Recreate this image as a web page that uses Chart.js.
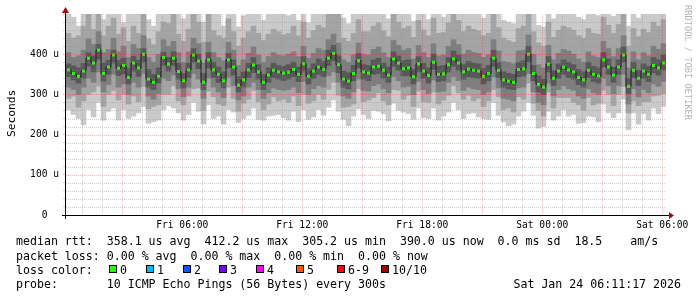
<!DOCTYPE html>
<html>
<head>
<meta charset="utf-8">
<script src="https://cdn.jsdelivr.net/npm/chart.js@4.4.1/dist/chart.umd.min.js"></script>
<style>
  body { margin: 0; background: #fff; }
  #wrap { position: relative; width: 697px; height: 297px; overflow: hidden; }
  .txt { position: absolute; font-family: 'DejaVu Sans Mono', monospace; font-size: 11.6px; line-height: 14px; white-space: pre; color: #000; }
  .box { position: absolute; width: 6px; height: 6px; border: 1px solid #000; }
  #ylab { position: absolute; left: 5px; top: 90px; width: 13px; height: 47px; font-family: 'DejaVu Sans Mono', monospace; font-size: 11.2px; line-height: 13px; white-space: pre; color: #000; writing-mode: vertical-rl; transform: rotate(180deg); }
  #credit { position: absolute; left: 683px; top: 5px; width: 9px; font-family: 'DejaVu Sans Mono', monospace; font-size: 8.7px; line-height: 9px; color: #b4b4b4; white-space: pre; writing-mode: vertical-rl; }
</style>
</head>
<body>
<div id="wrap">
  <canvas id="smoke" width="697" height="297"></canvas>
  <div id="ylab">Seconds</div>
  <div id="credit">RRDTOOL / TOBI OETIKER</div>
  <div class="txt" style="left:16px;top:234px">median rtt:  358.1 us avg  412.2 us max  305.2 us min  390.0 us now  0.0 ms sd  18.5    am/s</div>
  <div class="txt" style="left:16px;top:249px">packet loss: 0.00 % avg  0.00 % max  0.00 % min  0.00 % now</div>
  <div class="txt" style="left:16px;top:263px">loss color:</div>
  <div id="losslegend"></div>
  <div class="txt" style="left:16px;top:277px">probe:       10 ICMP Echo Pings (56 Bytes) every 300s</div>
  <div class="txt" style="right:16px;top:277px">Sat Jan 24 06:11:17 2026</div>
</div>
<script>
// time axis: hours since Fri 00:00, one column per 15 minutes
const firstHour = 0.313;
const stepHour = 0.25;

// median rtt (microseconds)
const median = [
  361,352,345,358,390,378,410,352,368,398,365,372,342,378,366,400,338,330,345,392,
  375,390,357,334,361,398,383,330,386,361,350,334,386,368,323,336,361,373,356,330,
  348,360,356,353,355,362,350,376,345,358,368,362,390,402,374,338,333,352,384,356,
  353,368,370,360,348,388,378,364,366,344,376,358,347,380,350,351,374,388,378,356,
  363,360,358,345,352,390,360,336,333,330,362,364,400,352,325,318,375,340,358,368,
  361,356,342,336,360,350,346,386,368,348,368,398,320,360,340,358,350,372,366,378
];
// smoke bands: ping 4..7
const deepHi = [
  376,371,366,377,404,396,424,378,385,410,384,390,364,395,385,414,362,350,366,405,
  392,406,378,352,378,414,400,352,404,380,368,356,402,386,344,356,378,392,374,350,
  366,378,372,370,374,380,368,394,364,376,388,382,410,422,396,358,354,372,402,374,
  372,386,390,378,368,406,396,384,386,362,394,378,366,400,370,372,392,408,398,374,
  382,378,376,364,372,410,380,356,352,350,380,384,420,372,346,338,394,360,376,386,
  380,374,362,356,380,370,366,404,388,368,386,418,340,380,360,376,370,392,386,398
];
const deepLo = [
  344,336,328,340,370,356,388,333,350,378,347,351,326,358,345,380,318,312,328,372,
  358,372,338,316,342,380,364,312,366,342,330,316,366,348,306,318,342,354,338,312,
  330,342,338,334,338,344,332,358,326,340,350,344,372,384,354,318,314,334,366,338,
  334,350,352,340,330,370,360,346,346,326,356,340,328,362,332,334,356,370,360,338,
  344,342,340,326,334,370,342,318,314,312,344,346,380,334,306,300,356,322,340,350,
  342,338,324,318,342,332,328,368,350,330,350,380,302,342,322,340,332,354,348,360
];
// ping 3..8
const darkHi = [
  404,392,396,410,438,424,456,404,412,440,406,420,392,424,414,446,392,380,400,436,
  420,432,404,380,406,440,426,378,430,404,392,384,430,410,372,386,402,418,398,380,
  394,404,398,396,400,406,394,420,390,402,414,410,436,450,428,386,380,398,428,400,
  398,412,418,404,392,434,422,410,414,388,422,404,392,426,396,398,420,436,424,400,
  410,404,402,392,398,436,408,382,380,376,408,410,448,400,374,366,422,386,402,412,
  408,400,388,380,406,396,392,432,414,394,414,446,366,406,386,404,396,420,412,426
];
const darkLo = [
  318,312,300,318,340,330,356,306,324,350,318,326,300,330,318,352,296,288,302,340,
  334,348,314,294,318,352,338,290,340,318,306,292,342,322,286,296,318,330,312,290,
  304,316,312,310,312,318,304,332,300,314,322,318,346,356,330,296,290,306,338,310,
  308,322,326,314,304,344,334,318,320,300,332,312,302,336,306,308,330,344,334,310,
  318,314,312,300,306,344,316,290,288,284,316,318,352,306,280,274,328,296,312,322,
  314,310,296,290,314,304,300,340,322,302,322,350,276,314,294,312,304,326,320,332
];
// ping 2..9
const midHi = [
  452,440,446,470,500,462,500,446,470,490,450,466,432,470,452,500,438,424,456,480,
  476,500,450,432,462,500,480,430,500,458,446,440,488,456,420,440,456,470,452,434,
  450,462,456,448,452,470,446,480,440,458,472,466,500,500,500,440,432,452,486,456,
  456,470,478,458,444,500,480,464,470,442,484,460,446,490,452,454,478,500,484,456,
  470,462,458,446,452,500,466,440,434,430,464,470,500,456,428,420,480,442,460,470,
  466,460,446,440,464,452,450,492,472,452,474,500,420,464,444,462,454,480,470,486
];
const midLo = [
  290,296,268,284,300,306,322,270,300,310,286,300,276,296,282,320,264,270,274,300,
  300,322,284,274,296,314,316,260,308,294,276,272,318,290,258,278,288,310,282,262,
  276,294,284,288,280,296,272,300,278,284,300,288,312,330,298,268,270,276,314,282,
  286,292,304,284,274,312,310,288,298,270,308,282,280,306,276,286,298,322,304,288,
  298,284,290,270,284,312,294,262,266,256,294,288,328,278,260,246,306,266,292,292,
  292,280,274,260,292,274,278,310,300,272,300,320,254,284,272,282,282,296,298,302
];
// ping 1..10
const lightHi = [
  500,492,470,500,500,500,500,486,500,500,500,478,500,500,500,500,486,470,500,500,
  500,500,500,488,500,500,500,480,500,500,500,470,500,500,468,496,500,500,500,484,
  500,500,500,500,496,500,484,500,478,500,500,500,500,500,500,490,476,500,500,500,
  500,500,500,500,488,500,500,500,500,482,500,500,486,500,500,492,500,500,500,500,
  500,500,500,490,500,500,500,484,480,476,500,500,500,500,472,468,500,488,500,500,
  500,500,492,486,500,500,496,500,500,494,500,500,470,500,490,500,500,500,500,500
];
const lightLo = [
  262,250,240,224,262,244,280,236,258,266,236,262,240,246,254,270,228,232,236,262,
  272,266,254,236,250,280,258,226,274,240,246,226,262,256,230,240,248,266,238,236,
  246,248,250,242,236,258,232,262,238,244,262,248,268,286,258,238,222,246,264,250,
  240,260,258,252,234,278,260,256,252,238,266,242,240,266,236,246,256,280,262,240,
  252,254,244,240,238,280,248,232,222,226,246,258,280,248,216,220,258,236,246,262,
  246,250,228,230,246,244,232,276,254,242,254,288,212,254,226,252,236,266,252,270
];

// axis ticks
const gridHours = [1,2,3,4,5,6,7,8,9,10,11,12,13,14,15,16,17,18,19,20,21,22,23,24,25,26,27,28,29,30];
const hourLabels = { 6: 'Fri 06:00', 12: 'Fri 12:00', 18: 'Fri 18:00', 24: 'Sat 00:00', 30: 'Sat 06:00' };
const lossNames = ['0', '1', '2', '3', '4', '5', '6-9', '10/10'];
const lossColors = ['#26ff00', '#00b8ff', '#0059ff', '#7e00ff', '#ff00ff', '#ff5500', '#ff0000', '#a00000'];
const lossX = [109, 146, 183, 219, 256, 296, 337, 381];

const hours = median.map((v, i) => firstHour + i * stepHour);

// loss colour legend
const leg = document.getElementById('losslegend');
lossNames.forEach((name, i) => {
  const b = document.createElement('div');
  b.className = 'box';
  b.style.left = lossX[i] + 'px';
  b.style.top = '265px';
  b.style.background = lossColors[i];
  leg.appendChild(b);
  const t = document.createElement('div');
  t.className = 'txt';
  t.style.left = (lossX[i] + 11) + 'px';
  t.style.top = '263px';
  t.textContent = name;
  leg.appendChild(t);
});

function band(lo, hi, color, order) {
  return {
    type: 'bar',
    data: lo.map((v, i) => [v, hi[i]]),
    backgroundColor: color,
    borderWidth: 0,
    grouped: false,
    categoryPercentage: 1,
    barPercentage: 1,
    order: order
  };
}

const red = 'rgba(255, 0, 0, 0.27)';
const grey = 'rgba(140, 140, 140, 0.4)';

// dotted grid over the smoke, then axis lines with arrows
const gridPlugin = {
  id: 'rrdgrid',
  afterDatasetsDraw(chart) {
    const c = chart.ctx;
    const a = chart.chartArea;
    const xs = chart.scales.x, ys = chart.scales.y;
    c.save();
    c.lineWidth = 1;
    c.setLineDash([1, 1]);
    ys.ticks.forEach(t => {
      if (t.value === 0 || t.value === 500) return;
      const y = Math.round(ys.getPixelForValue(t.value)) + 0.5;
      c.strokeStyle = t.value % 100 === 0 ? red : grey;
      c.beginPath(); c.moveTo(a.left, y); c.lineTo(a.right, y); c.stroke();
    });
    xs.ticks.forEach(t => {
      const x = Math.round(xs.getPixelForValue(t.value)) + 0.5;
      c.strokeStyle = t.value % 3 === 0 ? red : grey;
      c.beginPath(); c.moveTo(x, a.bottom); c.lineTo(x, a.top); c.stroke();
    });
    c.restore();
  },
  afterDraw(chart) {
    const c = chart.ctx;
    const a = chart.chartArea;
    const y0 = Math.round(chart.scales.y.getPixelForValue(0));
    c.save();
    c.fillStyle = '#000';
    c.fillRect(62, y0, 607, 1);
    c.fillRect(a.left - 1, 12, 1, y0 - 12 + 4);
    c.fillStyle = '#9a1010';
    c.beginPath();
    c.moveTo(669, y0 - 3); c.lineTo(674, y0 + 0.5); c.lineTo(669, y0 + 4); c.closePath(); c.fill();
    c.beginPath();
    c.moveTo(a.left - 4, 13); c.lineTo(a.left - 0.5, 7); c.lineTo(a.left + 3, 13); c.closePath(); c.fill();
    c.restore();
  }
};

new Chart(document.getElementById('smoke'), {
  type: 'bar',
  data: {
    labels: hours,
    datasets: [
      {
        type: 'line',
        data: median,
        stepped: 'middle',
        borderColor: '#202020',
        borderWidth: 1,
        pointStyle: 'rect',
        pointRadius: 2.12,
        pointBackgroundColor: '#26ff00',
        pointBorderWidth: 0,
        order: 0
      },
      band(deepLo, deepHi, '#585858', 1),
      band(darkLo, darkHi, '#7e7e7e', 2),
      band(midLo, midHi, '#a4a4a4', 3),
      band(lightLo, lightHi, '#cacaca', 4)
    ]
  },
  options: {
    responsive: false,
    animation: false,
    devicePixelRatio: 1,
    layout: { padding: { left: 0, right: 31, top: 14, bottom: 62 } },
    plugins: { legend: { display: false }, tooltip: { enabled: false } },
    scales: {
      x: {
        type: 'linear',
        offset: false,
        min: 0.188,
        max: 30.188,
        afterFit: s => { s.height = 20; },
        afterBuildTicks: s => { s.ticks = gridHours.map(h => ({ value: h })); },
        ticks: {
          autoSkip: false,
          maxRotation: 0,
          padding: 2,
          color: '#000',
          font: { family: 'DejaVu Sans Mono', size: 9.6 },
          callback: v => hourLabels[v] || ''
        },
        grid: { offset: false, drawOnChartArea: false, tickLength: 3, tickColor: 'rgba(0,0,0,0)' },
        border: { display: false }
      },
      y: {
        min: 0,
        max: 500,
        afterFit: s => { s.width = 66; },
        ticks: {
          stepSize: 20,
          autoSkip: false,
          padding: 4,
          color: '#000',
          font: { family: 'DejaVu Sans Mono', size: 9.6 },
          callback: v => (v % 100 !== 0 || v === 500) ? '' : (v === 0 ? '0  ' : v + ' u')
        },
        grid: {
          drawOnChartArea: false,
          tickLength: 3,
          tickColor: ctx => (ctx.tick && ctx.tick.value % 100 === 0) ? red : grey
        },
        border: { display: false }
      }
    }
  },
  plugins: [gridPlugin]
});
</script>
</body>
</html>
